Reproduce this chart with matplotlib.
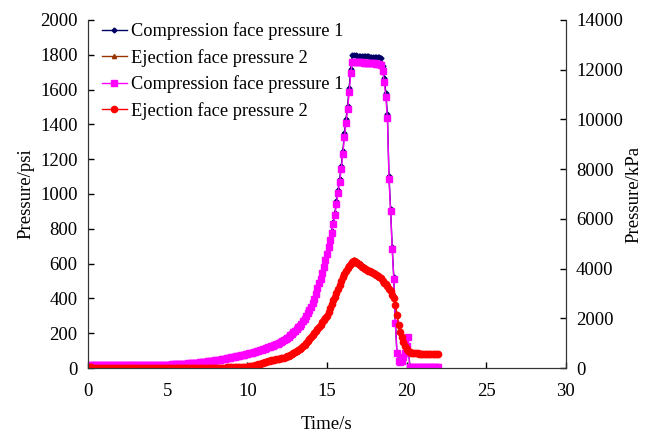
import numpy as np
import matplotlib
matplotlib.use('Agg')
import matplotlib.pyplot as plt

plt.rcParams['font.family'] = ['Liberation Serif', 'DejaVu Serif']

# time, s (0.0 ... 22.0, every 0.1 s)
time_s = np.round(np.arange(221) * 0.1, 1)

# compression face pressure 1, psi (left axis)
comp_psi = (
    [4, 18, 19, 19, 19, 19, 19, 19, 19, 19]
    + [19, 19, 19, 19, 19, 19, 19, 19, 19, 19]
    + [19, 19, 19, 19, 19, 19, 19, 19, 19, 19]
    + [19, 18, 18, 18, 18, 18, 18, 18, 18, 18]
    + [18, 18, 18, 18, 19, 19, 19, 19, 19, 19]
    + [20, 20, 20, 21, 21, 22, 22, 23, 23, 24]
    + [24, 25, 26, 27, 27, 28, 29, 30, 31, 32]
    + [33, 34, 35, 36, 37, 38, 39, 41, 42, 43]
    + [45, 46, 48, 50, 51, 53, 55, 57, 58, 60]
    + [62, 64, 66, 68, 70, 72, 74, 76, 78, 80]
    + [83, 85, 88, 90, 93, 96, 98, 101, 104, 107]
    + [110, 113, 117, 120, 123, 127, 130, 134, 137, 141]
    + [145, 151, 157, 163, 170, 176, 183, 191, 200, 209]
    + [218, 228, 238, 248, 260, 273, 287, 303, 319, 336]
    + [355, 377, 403, 432, 464, 496, 522, 554, 592, 629]
    + [667, 708, 747, 790, 841, 892, 957, 1022, 1088, 1160]
    + [1247, 1349, 1429, 1508, 1610, 1719, 1798, 1797, 1796, 1795]
    + [1794, 1793, 1792, 1792, 1791, 1790, 1790, 1789, 1789, 1788]
    + [1788, 1787, 1787, 1786, 1780, 1733, 1668, 1581, 1458, 1102]
    + [914, 696, 522, 261, 87, 44, 36, 41, 65, 87]
    + [131, 181, 9, 7, 7, 7, 7, 7, 7, 7]
    + [7, 7, 7, 7, 7, 7, 7, 7, 7, 7, 7]
)

# ejection face pressure 2, psi (left axis)
ejec_psi = (
    [7, 4, 4, 3, 3, 3, 3, 3, 3, 3]
    + [3, 3, 3, 3, 3, 3, 3, 3, 3, 3]
    + [3, 3, 3, 3, 3, 3, 3, 3, 3, 3]
    + [3, 3, 3, 3, 3, 3, 3, 3, 3, 3]
    + [3, 3, 3, 3, 3, 3, 3, 3, 3, 3]
    + [3, 3, 3, 3, 3, 3, 3, 3, 3, 3]
    + [3, 3, 3, 3, 3, 3, 3, 3, 3, 3]
    + [3, 3, 3, 3, 3, 3, 3, 3, 3, 3]
    + [3, 3, 3, 3, 3, 3, 3, 3, 3, 3]
    + [3, 4, 4, 4, 4, 5, 5, 6, 7, 8]
    + [9, 10, 11, 12, 15, 17, 19, 22, 25, 28]
    + [30, 33, 36, 39, 42, 44, 46, 48, 50, 52]
    + [54, 56, 58, 61, 64, 67, 71, 75, 80, 86]
    + [93, 99, 104, 112, 119, 128, 136, 146, 157, 168]
    + [180, 191, 203, 215, 228, 241, 254, 267, 278, 290]
    + [302, 326, 351, 374, 396, 416, 437, 458, 486, 508]
    + [529, 548, 566, 582, 596, 609, 619, 627, 619, 612]
    + [606, 599, 592, 585, 579, 573, 569, 564, 560, 555]
    + [551, 545, 539, 534, 524, 508, 497, 487, 476, 463]
    + [450, 428, 406, 370, 312, 254, 210, 181, 152, 128]
    + [110, 100, 93, 90, 88, 87, 86, 86, 85, 84]
    + [84, 83, 83, 83, 82, 82, 82, 82, 81, 81, 81]
)

# compression face pressure 1, kPa (right axis)
comp_kpa = (
    [30, 125, 130, 132, 132, 132, 132, 132, 132, 132]
    + [132, 132, 132, 131, 131, 131, 131, 130, 130, 130]
    + [130, 130, 129, 129, 129, 129, 128, 128, 128, 128]
    + [128, 127, 127, 127, 127, 127, 126, 126, 126, 126]
    + [126, 126, 127, 127, 128, 129, 130, 131, 132, 134]
    + [136, 138, 140, 143, 146, 149, 152, 156, 160, 164]
    + [168, 173, 178, 183, 188, 194, 200, 206, 212, 219]
    + [226, 233, 240, 248, 256, 264, 272, 281, 290, 299]
    + [310, 320, 331, 342, 354, 366, 378, 390, 403, 415]
    + [427, 440, 453, 466, 480, 494, 508, 523, 538, 554]
    + [570, 587, 604, 622, 640, 659, 678, 698, 718, 739]
    + [760, 782, 804, 827, 850, 874, 898, 923, 948, 974]
    + [1000, 1040, 1080, 1125, 1170, 1215, 1265, 1320, 1380, 1440]
    + [1500, 1570, 1640, 1710, 1790, 1880, 1980, 2090, 2200, 2320]
    + [2450, 2600, 2780, 2980, 3200, 3420, 3600, 3820, 4080, 4340]
    + [4600, 4880, 5150, 5450, 5800, 6150, 6600, 7050, 7500, 8000]
    + [8600, 9300, 9850, 10400, 11100, 11850, 12320, 12320, 12310, 12300]
    + [12300, 12290, 12290, 12280, 12280, 12270, 12270, 12260, 12260, 12250]
    + [12250, 12240, 12240, 12230, 12200, 11950, 11500, 10900, 10050, 7600]
    + [6300, 4800, 3600, 1800, 600, 300, 250, 280, 450, 600]
    + [900, 1250, 60, 50, 50, 50, 50, 50, 50, 50]
    + [50, 50, 50, 50, 50, 50, 50, 50, 50, 50, 50]
)

# ejection face pressure 2, kPa (right axis)
ejec_kpa = (
    [50, 30, 25, 22, 20, 20, 20, 20, 20, 20]
    + [20, 20, 20, 20, 20, 20, 20, 20, 20, 20]
    + [20, 20, 20, 20, 20, 20, 20, 20, 20, 20]
    + [20, 20, 20, 20, 20, 20, 20, 20, 20, 20]
    + [20, 20, 20, 20, 20, 20, 20, 20, 20, 20]
    + [20, 20, 20, 20, 20, 20, 20, 20, 20, 20]
    + [20, 20, 20, 20, 20, 20, 21, 21, 21, 21]
    + [21, 21, 21, 21, 21, 21, 21, 22, 22, 22]
    + [22, 22, 22, 22, 22, 22, 22, 23, 23, 23]
    + [24, 25, 27, 29, 31, 34, 37, 41, 46, 52]
    + [60, 68, 76, 86, 100, 116, 134, 152, 170, 190]
    + [210, 230, 250, 270, 290, 305, 320, 332, 344, 356]
    + [370, 385, 400, 420, 440, 465, 490, 520, 555, 595]
    + [640, 680, 720, 770, 820, 880, 940, 1010, 1080, 1160]
    + [1240, 1320, 1400, 1480, 1570, 1660, 1750, 1840, 1920, 2000]
    + [2080, 2250, 2420, 2580, 2730, 2870, 3010, 3160, 3350, 3500]
    + [3650, 3780, 3900, 4010, 4110, 4200, 4270, 4320, 4270, 4220]
    + [4180, 4130, 4080, 4030, 3990, 3950, 3920, 3890, 3860, 3830]
    + [3800, 3760, 3720, 3680, 3610, 3500, 3430, 3360, 3280, 3190]
    + [3100, 2950, 2800, 2550, 2150, 1750, 1450, 1250, 1050, 880]
    + [760, 690, 640, 620, 610, 600, 595, 590, 585, 580]
    + [578, 575, 572, 570, 568, 566, 564, 562, 560, 558, 556]
)

labels = ['Compression face pressure 1', 'Ejection face pressure 2',
          'Compression face pressure 1', 'Ejection face pressure 2']

fs = 13.5

fig = plt.figure(figsize=(6.48, 4.33), dpi=100)
ax = fig.add_axes([0.136, 0.150, 0.737, 0.804])
ax2 = ax.twinx()

l1, = ax.plot(time_s, comp_psi, color='#000066', lw=1, marker='D', ms=2.5,
              label=labels[0])
l2, = ax.plot(time_s, ejec_psi, color='#993300', lw=1, marker='^', ms=3,
              label=labels[1])
l3, = ax2.plot(time_s, comp_kpa, color='#ff00ff', lw=1, marker='s', ms=4,
               label=labels[2])
l4, = ax2.plot(time_s, ejec_kpa, color='#ff0000', lw=1, marker='o', ms=4.5,
               label=labels[3])

ax.set_xlim(0, 30)
ax.set_ylim(0, 2000)
ax2.set_ylim(0, 14000)
ax.set_xticks(range(0, 31, 5))
ax.set_yticks(range(0, 2001, 200))
ax2.set_yticks(range(0, 14001, 2000))

for a in (ax, ax2):
    a.spines['top'].set_visible(False)
    a.tick_params(direction='in', length=4, width=1, labelsize=fs,
                  colors='black')
    for s in a.spines.values():
        s.set_color('#333333')
ax.tick_params(axis='x', pad=11)
ax.tick_params(axis='y', pad=7.5)
ax2.tick_params(axis='y', pad=7.5)

ax.set_xlabel('Time/s', fontsize=fs, labelpad=11)
ax.set_ylabel('Pressure/psi', fontsize=fs, labelpad=4)
ax2.set_ylabel('Pressure/kPa', fontsize=fs, labelpad=2)

ax.legend(handles=[l1, l2, l3, l4], loc='upper left', frameon=False,
          fontsize=13.2, handlelength=1.4, handletextpad=0.2,
          labelspacing=0.47, borderaxespad=0.2, bbox_to_anchor=(0.005, 1.025))

fig.savefig('out.png', dpi=100)
